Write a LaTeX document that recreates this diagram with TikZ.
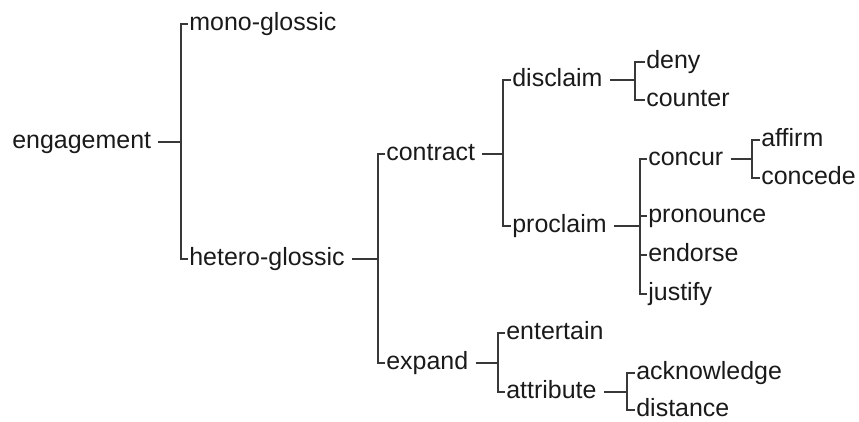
\documentclass[tikz,border=0pt]{standalone}
\usepackage{fontspec}
\setmainfont{Liberation Sans}
\usetikzlibrary{calc}
\definecolor{enink}{HTML}{1A1A1A}
\definecolor{enline}{HTML}{383838}
\tikzset{
  term/.style = {anchor=west, inner xsep=0.03cm, inner ysep=0pt,
                 text height=7.4pt, text depth=0pt, text=enink,
                 font=\fontsize{14.2}{17}\selectfont},
  link/.style = {draw=enline, line width=1.1pt, line join=miter},
}

\begin{document}
\begin{tikzpicture}
  \useasboundingbox (0,0) rectangle (17.18,-8.42);

  % ---------- terms ------------------------------------------------------
  \node[term] (eng)    at ( 0.21,-2.84) {engagement};
  \node[term] (mono)   at ( 3.75,-0.48) {mono-glossic};
  \node[term] (het)    at ( 3.75,-5.18) {hetero-glossic};
  \node[term] (con)    at ( 7.69,-3.08) {contract};
  \node[term] (exp)    at ( 7.69,-7.26) {expand};
  \node[term] (dis)    at (10.21,-1.60) {disclaim};
  \node[term] (pro)    at (10.21,-4.52) {proclaim};
  \node[term] (deny)   at (12.89,-1.24) {deny};
  \node[term] (ctr)    at (12.89,-2.00) {counter};
  \node[term] (ccr)    at (12.93,-3.18) {concur};
  \node[term] (pron)   at (12.93,-4.32) {pronounce};
  \node[term] (endo)   at (12.93,-5.10) {endorse};
  \node[term] (just)   at (12.93,-5.88) {justify};
  \node[term] (aff)    at (15.19,-2.80) {affirm};
  \node[term] (cced)   at (15.19,-3.56) {concede};
  \node[term] (ent)    at (10.09,-6.66) {entertain};
  \node[term] (att)    at (10.09,-7.84) {attribute};
  \node[term] (ack)    at (12.69,-7.46) {acknowledge};
  \node[term] (dist)   at (12.69,-8.20) {distance};

  % ---------- bracket bars -----------------------------------------------
  \coordinate (bar-eng) at ( 3.62,0);
  \coordinate (bar-het) at ( 7.56,0);
  \coordinate (bar-con) at (10.06,0);
  \coordinate (bar-exp) at ( 9.96,0);
  \coordinate (bar-dis) at (12.70,0);
  \coordinate (bar-pro) at (12.80,0);
  \coordinate (bar-ccr) at (15.04,0);
  \coordinate (bar-att) at (12.54,0);

  % ---------- connectors -------------------------------------------------
  \draw[link] ([xshift=1.1mm]eng.east) -- (eng.east -| bar-eng);
  \draw[link] (mono.west) -| (bar-eng |- het.west) -- (het.west);

  \draw[link] ([xshift=1.1mm]het.east) -- (het.east -| bar-het);
  \draw[link] (con.west) -| (bar-het |- exp.west) -- (exp.west);

  \draw[link] ([xshift=1.1mm]con.east) -- (con.east -| bar-con);
  \draw[link] (dis.west) -| (bar-con |- pro.west) -- (pro.west);

  \draw[link] ([xshift=1.1mm]dis.east) -- (dis.east -| bar-dis);
  \draw[link] (deny.west) -| (bar-dis |- ctr.west) -- (ctr.west);

  \draw[link] ([xshift=1.1mm]pro.east) -- (pro.east -| bar-pro);
  \draw[link] (ccr.west) -| (bar-pro |- just.west) -- (just.west);
  \foreach \c in {pron, endo}
    \draw[link] (\c.west -| bar-pro) -- (\c.west);

  \draw[link] ([xshift=1.1mm]ccr.east) -- (ccr.east -| bar-ccr);
  \draw[link] (aff.west) -| (bar-ccr |- cced.west) -- (cced.west);

  \draw[link] ([xshift=1.1mm]exp.east) -- (exp.east -| bar-exp);
  \draw[link] (ent.west) -| (bar-exp |- att.west) -- (att.west);

  \draw[link] ([xshift=1.1mm]att.east) -- (att.east -| bar-att);
  \draw[link] (ack.west) -| (bar-att |- dist.west) -- (dist.west);

\end{tikzpicture}
\end{document}
